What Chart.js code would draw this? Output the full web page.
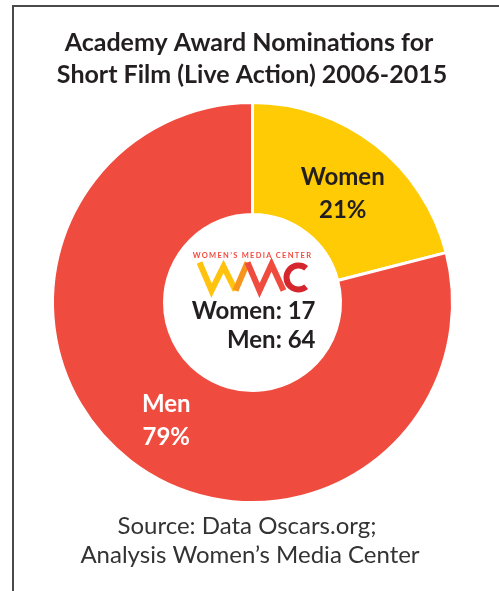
<!DOCTYPE html>
<html>
<head>
<meta charset="utf-8">
<script src="https://cdn.jsdelivr.net/npm/chart.js@4.4.1/dist/chart.umd.min.js"></script>
<style>
  html, body { margin: 0; padding: 0; background: #fff; }
  #wrap { position: relative; width: 499px; height: 591px; overflow: hidden; }
  #frame {
    position: absolute; left: 12px; top: 5px; right: -5px; bottom: -5px;
    border-top: 2px solid #4a4a4a; border-left: 2px solid #4a4a4a;
    pointer-events: none;
  }
</style>
</head>
<body>
<div id="wrap">
  <canvas id="nominationsChart" width="499" height="591"></canvas>
  <div id="frame"></div>
</div>
<script>
// Academy Award nominations, Short Film (Live Action) 2006-2015
const categories = ["Women", "Men"];
const nominations = [17, 64];
const titleLines = ["Academy Award Nominations for", "Short Film (Live Action) 2006-2015"];
const sourceLines = ["Source: Data Oscars.org;", "Analysis Women\u2019s Media Center"];

const FONT = "Lato, 'Open Sans', sans-serif";
const total = nominations.reduce((a, b) => a + b, 0);

// title, source, slice labels and the centre badge
const textPlugin = {
  id: "textPlugin",
  afterDraw(chart) {
    const ctx = chart.ctx;
    ctx.save();
    ctx.textAlign = "center";
    ctx.textBaseline = "alphabetic";

    ctx.fillStyle = "#231f20";
    ctx.font = "bold 25px " + FONT;
    ctx.fillText(titleLines[0], 249, 51);
    ctx.fillText(titleLines[1], 252, 83);

    ctx.fillStyle = "#333";
    ctx.font = "24px " + FONT;
    ctx.fillText(sourceLines[0], 247, 534);
    ctx.fillText(sourceLines[1], 250, 563);

    // slice labels
    const arcs = chart.getDatasetMeta(0).data;
    arcs.forEach((arc, i) => {
      const p = arc.tooltipPosition();
      const pct = Math.round(nominations[i] / total * 100) + "%";
      ctx.fillStyle = i === 0 ? "#231f20" : "#fff";
      ctx.font = "bold 24px " + FONT;
      ctx.fillText(categories[i], p.x + 2, p.y - 4);
      ctx.fillText(pct, p.x + 2, p.y + 29);
    });

    // centre: logo + counts
    const cx = arcs[0].x, cy = arcs[0].y;
    ctx.fillStyle = "#f04b3f";
    ctx.font = "bold 7.5px " + FONT;
    ctx.letterSpacing = "1.3px";
    ctx.fillText("WOMEN\u2019S MEDIA CENTER", cx, cy - 45);
    ctx.letterSpacing = "0px";

    ctx.lineWidth = 6;
    ctx.lineJoin = "miter";
    ctx.lineCap = "butt";
    const ox = cx - 55, oy = cy - 40;
    ctx.strokeStyle = "#ffc20e";
    ctx.beginPath();
    ctx.moveTo(ox + 2, oy);
    ctx.lineTo(ox + 14, oy + 28);
    ctx.lineTo(ox + 26, oy + 4);
    ctx.lineTo(ox + 38, oy + 28);
    ctx.stroke();
    ctx.strokeStyle = "#f7941d";
    ctx.beginPath();
    ctx.moveTo(ox + 38, oy + 28);
    ctx.lineTo(ox + 50, oy);
    ctx.stroke();
    ctx.strokeStyle = "#f04b3f";
    ctx.beginPath();
    ctx.moveTo(ox + 50, oy);
    ctx.lineTo(ox + 62, oy + 28);
    ctx.lineTo(ox + 74, oy + 2);
    ctx.lineTo(ox + 86, oy + 28);
    ctx.stroke();
    ctx.strokeStyle = "#d4262c";
    ctx.beginPath();
    ctx.arc(ox + 101, oy + 15, 12, -Math.PI * 0.28, Math.PI * 0.28, true);
    ctx.stroke();

    ctx.fillStyle = "#231f20";
    ctx.font = "bold 24px " + FONT;
    ctx.textAlign = "right";
    ctx.fillText(categories[0] + ": " + nominations[0], cx + 63, cy + 16);
    ctx.fillText(categories[1] + ": " + nominations[1], cx + 63, cy + 45);
    ctx.restore();
  }
};

const ctx = document.getElementById("nominationsChart").getContext("2d");
const nominationsChart = new Chart(ctx, {
  type: "doughnut",
  data: {
    labels: categories,
    datasets: [
      {
        data: nominations,
        backgroundColor: ["#ffcb05", "#f04b3f"],
        borderColor: "#ffffff",
        borderWidth: 3,
      },
    ],
  },
  options: {
    responsive: false,
    animation: false,
    cutout: "44%",
    layout: {
      padding: { left: 51, right: 45, top: 101, bottom: 87 },
    },
    plugins: {
      legend: { display: false },
      tooltip: { enabled: false },
      title: { display: false },
    },
  },
  plugins: [textPlugin],
});
</script>
</body>
</html>
